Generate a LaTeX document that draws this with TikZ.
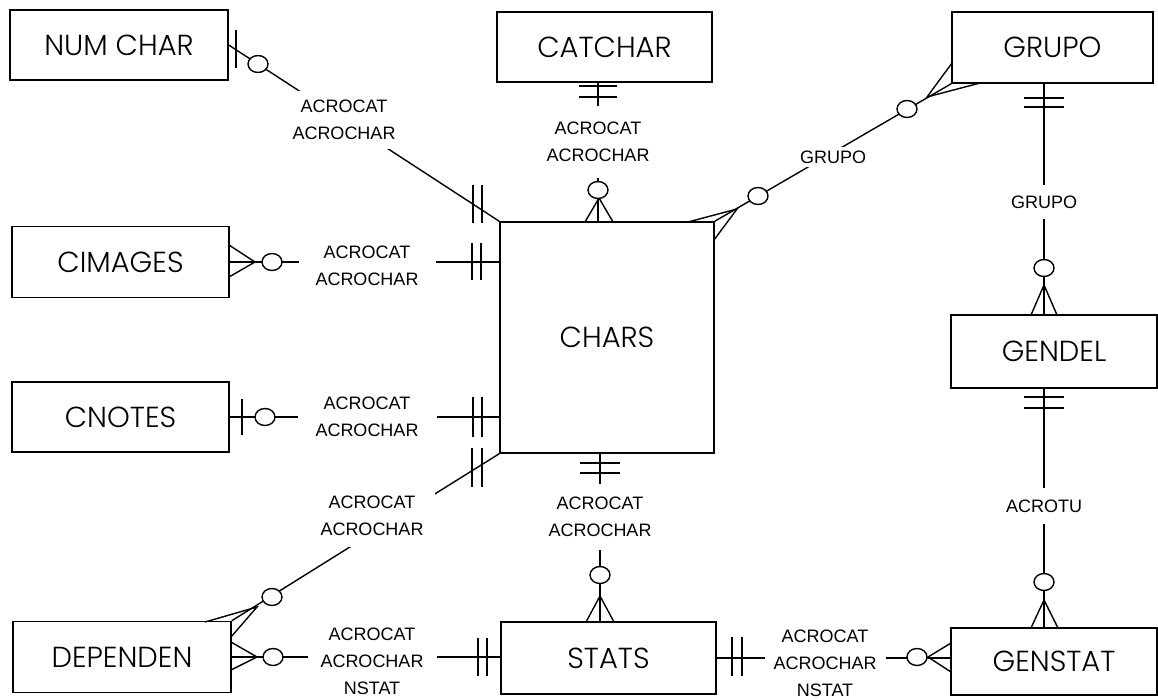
\documentclass[tikz,border=0pt]{standalone}
\usepackage{fontspec}
\newfontfamily\entfont{Poppins Light}
\newfontfamily\lblfont{Liberation Sans}
\usetikzlibrary{shapes.geometric}

\begin{document}
\begin{tikzpicture}[x=1pt, y=-1pt,
    entity/.style={draw, line width=1.4pt, inner sep=0pt, font=\entfont\fontsize{29}{29}\selectfont},
    rel/.style={fill=white, inner sep=10pt, align=center, font=\lblfont\fontsize{18}{27}\selectfont},
    link/.style={line width=1.4pt},
    tick/.style={line width=1.4pt},
    ring/.style={ellipse, draw, line width=1.4pt, fill=white, minimum width=20pt, minimum height=17pt, inner sep=0pt}
]
    \useasboundingbox (0,0) rectangle (1158,699);

    \node[entity, minimum width=218, minimum height=70] (numchar) at (119,45) {NUM CHAR};
    \node[entity, minimum width=215, minimum height=70] (catchar) at (604.5,47) {CATCHAR};
    \node[entity, minimum width=201, minimum height=71] (grupo) at (1052.5,47.5) {GRUPO};
    \node[entity, minimum width=217, minimum height=71] (cimages) at (120.5,262) {CIMAGES};
    \node[entity, minimum width=217, minimum height=70] (cnotes) at (120.5,417) {CNOTES};
    \node[entity, minimum width=214, minimum height=231] (chars) at (607,337.5) {CHARS};
    \node[entity, minimum width=206, minimum height=73] (gendel) at (1054,351.5) {GENDEL};
    \node[entity, minimum width=218, minimum height=71] (dependen) at (122,657) {DEPENDEN};
    \node[entity, minimum width=215, minimum height=72] (stats) at (608.5,658) {STATS};
    \node[entity, minimum width=206, minimum height=67] (genstat) at (1054,661.5) {GENSTAT};

    \coordinate (colA) at (598,0);
    \coordinate (colB) at (1044,0);
    \coordinate (colC) at (600,0);

    \draw[link] (numchar.east) -- (chars.north west);
    \draw[link] (catchar.south -| colA) -- (chars.north -| colA);
    \draw[link] (chars.north east) -- (grupo.south west);
    \draw[link] (grupo.south -| colB) -- (gendel.north -| colB);
    \draw[link] (gendel.south -| colB) -- (genstat.north -| colB);
    \draw[link] (cimages.east) -- (cimages.east -| chars.west);
    \draw[link] (cnotes.east) -- (cnotes.east -| chars.west);
    \draw[link] (chars.south west) -- (dependen.north east);
    \draw[link] (chars.south -| colC) -- (stats.north -| colC);
    \draw[link] (dependen.east) -- (dependen.east -| stats.west);
    \draw[link] (stats.east) -- (stats.east -| genstat.west);

    \node[rel, inner ysep=9pt] (r1) at (344,120) {ACROCAT\\ACROCHAR};
    \node[rel, inner ysep=16pt] (r2) at (598,142) {ACROCAT\\ACROCHAR};
    \node[rel, inner sep=4pt] (r3) at (833,157) {GRUPO};
    \node[rel, inner ysep=11pt] (r4) at (1044,202) {GRUPO};
    \node[rel, inner xsep=17pt] (r5) at (367,266) {ACROCAT\\ACROCHAR};
    \node[rel, inner xsep=18pt] (r6) at (367,417) {ACROCAT\\ACROCHAR};
    \node[rel, inner sep=11pt] (r7) at (372,516) {ACROCAT\\ACROCHAR};
    \node[rel, inner ysep=13pt] (r8) at (600,517) {ACROCAT\\ACROCHAR};
    \node[rel, inner ysep=12pt] (r9) at (1044,506) {ACROTU};
    \node[rel, inner xsep=13pt, inner ysep=2pt] (r10) at (372,661) {ACROCAT\\ACROCHAR\\NSTAT};
    \node[rel, inner xsep=9pt, inner ysep=2pt] (r11) at (825,663) {ACROCAT\\ACROCHAR\\NSTAT};

    \draw[tick] (585,222) -- (599,198) -- (613,222);
    \draw[tick] (688,222) -- (737,209) -- (714,240);
    \draw[tick] (952,63) -- (927,97) -- (980,83);
    \draw[tick] (1031,315) -- (1044,285) -- (1057,315);
    \draw[tick] (1031,628) -- (1044,600) -- (1058,628);
    \draw[tick] (229,245) -- (255,262) -- (229,277);
    \draw[tick] (205,622) -- (257,607) -- (231,637);
    \draw[tick] (586,622) -- (600,596) -- (614,622);
    \draw[tick] (231,642) -- (257,657) -- (231,670);
    \draw[tick] (951,643) -- (928,657) -- (951,672);

    \draw[tick] (236,30) -- (236,68);
    \draw[tick] (473,185) -- (473,223) (482,185) -- (482,223);
    \draw[tick] (579,86) -- (617,86) (579,97) -- (617,97);
    \draw[tick] (1024,98) -- (1064,98) (1024,107) -- (1064,107);
    \draw[tick] (1024,397) -- (1064,397) (1024,408) -- (1064,408);
    \draw[tick] (472,243) -- (472,280) (481,243) -- (481,280);
    \draw[tick] (242,399) -- (242,435);
    \draw[tick] (473,397) -- (473,437) (482,397) -- (482,437);
    \draw[tick] (472,448) -- (472,487) (482,448) -- (482,487);
    \draw[tick] (580,463) -- (620,463) (580,473) -- (620,473);
    \draw[tick] (478,638) -- (478,676) (487,638) -- (487,676);
    \draw[tick] (732,637) -- (732,676) (742,637) -- (742,676);

    \node[ring] (o1) at (258,64) {};
    \node[ring] (o2) at (598,190) {};
    \node[ring] (o3) at (758,196) {};
    \node[ring] (o4) at (907,109) {};
    \node[ring] (o5) at (1044,268) {};
    \node[ring] (o6) at (1044,582) {};
    \node[ring] (o7) at (272,262) {};
    \node[ring] (o8) at (265,417) {};
    \node[ring] (o9) at (272,597) {};
    \node[ring] (o10) at (600,575) {};
    \node[ring] (o11) at (273,657) {};
    \node[ring] (o12) at (917,657) {};
\end{tikzpicture}
\end{document}
